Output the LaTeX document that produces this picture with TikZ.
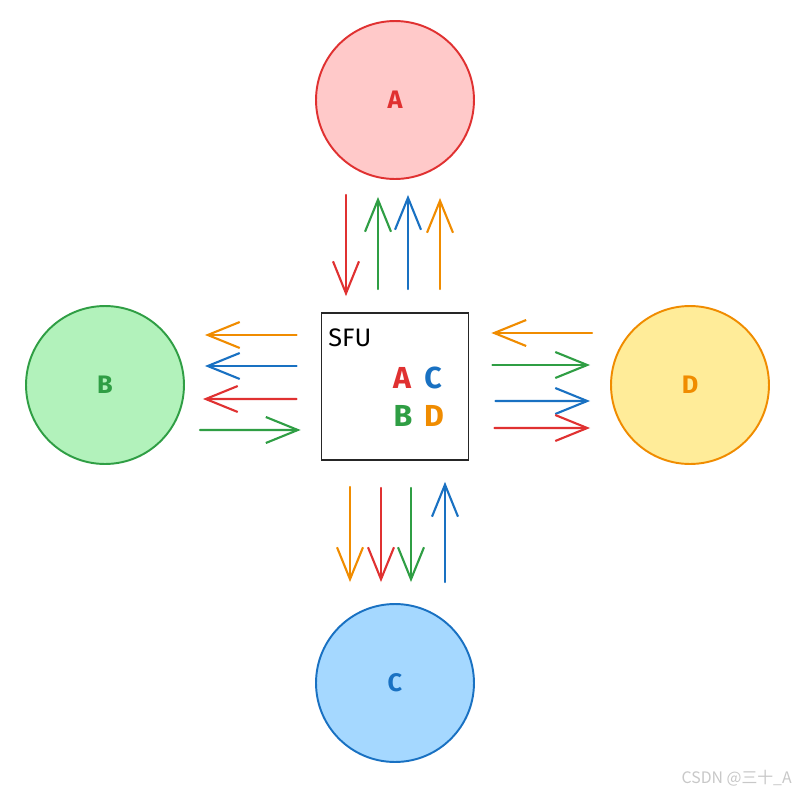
\documentclass[tikz,border=0pt]{standalone}
\usepackage{fontspec}
\setmainfont{Fira Sans}
\newfontfamily\cjk{Noto Sans CJK SC}
\usetikzlibrary{arrows.meta,calc}
\definecolor{ared}{HTML}{E03131}
\definecolor{afill}{HTML}{FFC9C9}
\definecolor{bgreen}{HTML}{2F9E44}
\definecolor{bfill}{HTML}{B2F2BB}
\definecolor{cblue}{HTML}{1971C2}
\definecolor{cfill}{HTML}{A5D8FF}
\definecolor{dorange}{HTML}{F08C00}
\definecolor{dfill}{HTML}{FFEC99}
\definecolor{markgray}{HTML}{C8C8C8}
\tikzset{
  peer/.style 2 args={circle, draw=#1, fill=#2, line width=1.1pt,
                      minimum size=3.16cm, inner sep=0pt,
                      text=#1, font=\Large\bfseries},
  sfubox/.style={draw=black!85, line width=1pt, fill=white,
                 minimum width=2.94cm, minimum height=2.94cm, inner sep=0pt},
  letter/.style={text=#1, font=\LARGE\bfseries, inner sep=0pt},
  arr/.style={-{Straight Barb[length=0.64cm,width=0.52cm]},
              line width=1.2pt, line cap=round},
}

\begin{document}
\begin{tikzpicture}[x=0.02cm, y=-0.02cm]
  \useasboundingbox[fill=white] (0,0) rectangle (796,792);

  \node[peer={ared}{afill}]      (A) at (395,100) {A};
  \node[peer={bgreen}{bfill}]    (B) at (105,385) {B};
  \node[peer={dorange}{dfill}]   (D) at (690,385) {D};
  \node[peer={cblue}{cfill}]     (C) at (395,683) {C};

  \node[sfubox] (sfu) at (395,386.5) {};
  \node[anchor=west, font=\Large, inner sep=0pt] (sfutxt) at (328,338) {SFU};
  \node[letter=ared]    (ia) at (402,378) {A};
  \node[letter=cblue]   (ic) at (433,378) {C};
  \node[letter=bgreen]  (ib) at (403,416) {B};
  \node[letter=dorange] (id) at (434,416) {D};

  % A <-> SFU
  \draw[arr, ared]    ($(A.south)+(-49,15)$)   -- ($(sfu.north)+(-49,-16)$);
  \draw[arr, bgreen]  ($(sfu.north)+(-17,-23)$) -- ($(A.south)+(-17,17)$);
  \draw[arr, cblue]   ($(sfu.north)+(13,-23)$)  -- ($(A.south)+(13,15)$);
  \draw[arr, dorange] ($(sfu.north)+(45,-23)$)  -- ($(A.south)+(45,18)$);

  % B <-> SFU
  \draw[arr, dorange] ($(sfu.west)+(-24,-51.5)$) -- ($(B.east)+(20,-50)$);
  \draw[arr, cblue]   ($(sfu.west)+(-24,-20.5)$) -- ($(B.east)+(20,-19)$);
  \draw[arr, ared]    ($(sfu.west)+(-24,12.5)$)  -- ($(B.east)+(18,14)$);
  \draw[arr, bgreen]  ($(B.east)+(15,45)$)       -- ($(sfu.west)+(-20,43.5)$);

  % D <-> SFU
  \draw[arr, dorange] ($(D.west)+(-18,-52)$)    -- ($(sfu.east)+(22,-53.5)$);
  \draw[arr, bgreen]  ($(sfu.east)+(23,-21.5)$) -- ($(D.west)+(-20,-20)$);
  \draw[arr, cblue]   ($(sfu.east)+(26,14.5)$)  -- ($(D.west)+(-20,16)$);
  \draw[arr, ared]    ($(sfu.east)+(25,41.5)$)  -- ($(D.west)+(-20,43)$);

  % C <-> SFU
  \draw[arr, dorange] ($(sfu.south)+(-45,26)$) -- ($(C.north)+(-45,-21)$);
  \draw[arr, ared]    ($(sfu.south)+(-14,27)$) -- ($(C.north)+(-14,-21)$);
  \draw[arr, bgreen]  ($(sfu.south)+(16,27)$)  -- ($(C.north)+(16,-21)$);
  \draw[arr, cblue]   ($(C.north)+(50,-21)$)   -- ($(sfu.south)+(50,21)$);

  \node[anchor=east, text=markgray, font=\cjk\fontsize{9}{10}\selectfont,
        inner sep=0pt] (mark) at (792,778) {CSDN @三十\_A};
\end{tikzpicture}
\end{document}
